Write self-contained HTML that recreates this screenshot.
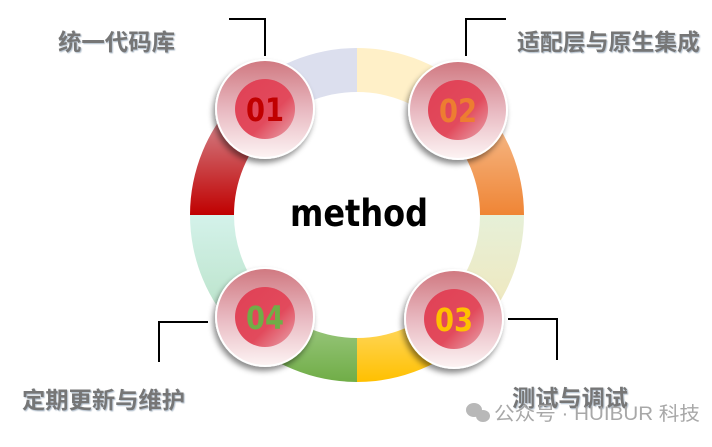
<!DOCTYPE html>
<html><head><meta charset="utf-8"><style>
body{margin:0;width:712px;height:442px;background:#fff;overflow:hidden;font-family:"Liberation Sans","Noto Sans CJK SC",sans-serif}
</style></head><body>
<svg width="712" height="442" viewBox="0 0 712 442" xmlns="http://www.w3.org/2000/svg">
<defs>
<linearGradient id="gRed" x1="0" y1="0" x2="0" y2="1"><stop offset="0" stop-color="#d8a0a8"/><stop offset="1" stop-color="#c00000"/></linearGradient>
<linearGradient id="gOr" x1="0" y1="0" x2="0" y2="1"><stop offset="0" stop-color="#f8c8a0"/><stop offset="1" stop-color="#ef8535"/></linearGradient>
<linearGradient id="gYG" x1="0" y1="0" x2="0" y2="1"><stop offset="0" stop-color="#e6f0d8"/><stop offset="1" stop-color="#f2e6b8"/></linearGradient>
<linearGradient id="gY" x1="0" y1="0" x2="0" y2="1"><stop offset="0" stop-color="#ffe080"/><stop offset="1" stop-color="#ffc000"/></linearGradient>
<linearGradient id="gG" x1="0" y1="0" x2="0" y2="1"><stop offset="0" stop-color="#a8d090"/><stop offset="1" stop-color="#70ad47"/></linearGradient>
<linearGradient id="gM" x1="0" y1="0" x2="0" y2="1"><stop offset="0" stop-color="#d4f2ea"/><stop offset="1" stop-color="#b6e0c4"/></linearGradient>
<linearGradient id="gOuter" x1="0" y1="0" x2="0" y2="1"><stop offset="0" stop-color="#d07880"/><stop offset="0.5" stop-color="#e8b8c0"/><stop offset="1" stop-color="#fdf4f4"/></linearGradient>
<linearGradient id="gInner" x1="0" y1="0" x2="1" y2="1"><stop offset="0" stop-color="#e04055"/><stop offset="0.6" stop-color="#e24a5c"/><stop offset="1" stop-color="#e8a8b0"/></linearGradient>
<filter id="sh" x="-30%" y="-30%" width="160%" height="160%"><feDropShadow dx="-2" dy="4" stdDeviation="3" flood-color="#000" flood-opacity="0.45"/></filter>
<filter id="ts"><feDropShadow dx="1" dy="1" stdDeviation="0.5" flood-color="#9ab" flood-opacity="0.8"/></filter>
</defs>
<g transform="translate(357,215)">
<path d="M0,-167 A167,167 0 0 0 -118.1,-118.1 L-87,-87 A123,123 0 0 1 0,-123Z" fill="#dcdfee"/>
<path d="M-118.1,-118.1 A167,167 0 0 0 -167,0 L-123,0 A123,123 0 0 1 -87,-87Z" fill="url(#gRed)"/>
<path d="M0,-167 A167,167 0 0 1 118.1,-118.1 L87,-87 A123,123 0 0 0 0,-123Z" fill="#fff0c8"/>
<path d="M118.1,-118.1 A167,167 0 0 1 167,0 L123,0 A123,123 0 0 0 87,-87Z" fill="url(#gOr)"/>
<path d="M167,0 A167,167 0 0 1 118.1,118.1 L87,87 A123,123 0 0 0 123,0Z" fill="url(#gYG)"/>
<path d="M118.1,118.1 A167,167 0 0 1 0,167 L0,123 A123,123 0 0 0 87,87Z" fill="url(#gY)"/>
<path d="M0,167 A167,167 0 0 1 -118.1,118.1 L-87,87 A123,123 0 0 0 0,123Z" fill="url(#gG)"/>
<path d="M-118.1,118.1 A167,167 0 0 1 -167,0 L-123,0 A123,123 0 0 0 -87,87Z" fill="url(#gM)"/>
</g>
<text x="290" y="226" textLength="138" lengthAdjust="spacingAndGlyphs" font-family="'DejaVu Sans','Liberation Sans',sans-serif" font-weight="bold" font-size="37" fill="#000">method</text>
<g stroke="#000" stroke-width="2" fill="none">
<path d="M229,19 H265 V56"/>
<path d="M506,19 H466 V56"/>
<path d="M208,322 H159 V362"/>
<path d="M508,319 H557 V360"/>
</g>
<g font-family="'DejaVu Sans','Liberation Sans',sans-serif" font-weight="bold" font-size="32">
<g transform="translate(265,109)"><circle r="49" fill="url(#gOuter)" stroke="#fff" stroke-width="2" filter="url(#sh)"/><circle r="30" fill="url(#gInner)"/><text x="-19" y="12" textLength="38" lengthAdjust="spacingAndGlyphs" fill="#c00000">01</text></g>
<g transform="translate(458,110)"><circle r="49" fill="url(#gOuter)" stroke="#fff" stroke-width="2" filter="url(#sh)"/><circle r="30" fill="url(#gInner)"/><text x="-19" y="12" textLength="38" lengthAdjust="spacingAndGlyphs" fill="#ed7d31">02</text></g>
<g transform="translate(454,319)"><circle r="49" fill="url(#gOuter)" stroke="#fff" stroke-width="2" filter="url(#sh)"/><circle r="30" fill="url(#gInner)"/><text x="-19" y="12" textLength="38" lengthAdjust="spacingAndGlyphs" fill="#ffc000">03</text></g>
<g transform="translate(265,317)"><circle r="49" fill="url(#gOuter)" stroke="#fff" stroke-width="2" filter="url(#sh)"/><circle r="30" fill="url(#gInner)"/><text x="-19" y="12" textLength="38" lengthAdjust="spacingAndGlyphs" fill="#70ad47">04</text></g>
</g>
<g font-family="'Liberation Sans','Noto Sans CJK SC',sans-serif" font-weight="bold" font-size="23" fill="#767676" filter="url(#ts)">
<text x="58" y="50" textLength="117" lengthAdjust="spacingAndGlyphs">统一代码库</text>
<text x="517" y="50" textLength="183" lengthAdjust="spacingAndGlyphs">适配层与原生集成</text>
<text x="22" y="408" textLength="163" lengthAdjust="spacingAndGlyphs">定期更新与维护</text>
<text x="512" y="406" textLength="116" lengthAdjust="spacingAndGlyphs">测试与调试</text>
</g>
<g fill="#b8b8b8">
<ellipse cx="474" cy="410" rx="8" ry="7"/><ellipse cx="483" cy="416" rx="7" ry="6"/>
</g>
<text x="494" y="420" textLength="206" lengthAdjust="spacingAndGlyphs" font-family="'Liberation Sans','Noto Sans CJK SC',sans-serif" font-size="19" fill="#a8a8a8">公众号 · HUIBUR 科技</text>
</svg>
</body></html>
